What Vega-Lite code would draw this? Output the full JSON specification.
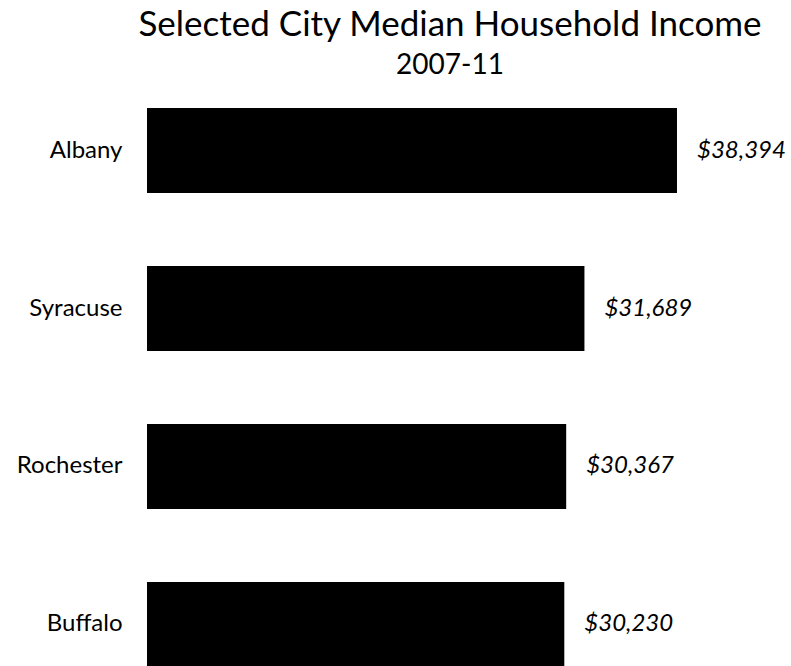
{
  "$schema": "https://vega.github.io/schema/vega-lite/v6.json",
  "autosize": "none",
  "width": 606,
  "height": 559,
  "padding": {"top": 108, "left": 147, "right": 38, "bottom": 0},
  "background": "white",
  "title": {
    "text": "Selected City Median Household Income",
    "subtitle": "2007-11",
    "anchor": "middle",
    "font": "Lato",
    "fontSize": 35,
    "fontWeight": "normal",
    "color": "#000000",
    "subtitleFont": "Lato",
    "subtitleFontSize": 28,
    "subtitleColor": "#000000",
    "subtitlePadding": 9,
    "offset": 28
  },
  "data": {
    "values": [
      {"city": "Albany", "income": 38394},
      {"city": "Syracuse", "income": 31689},
      {"city": "Rochester", "income": 30367},
      {"city": "Buffalo", "income": 30230}
    ]
  },
  "encoding": {
    "y": {
      "field": "city",
      "type": "nominal",
      "sort": null,
      "scale": {"paddingInner": 0.462, "paddingOuter": 0},
      "axis": {
        "title": null,
        "ticks": false,
        "domain": false,
        "labelFont": "Lato",
        "labelFontSize": 24,
        "labelColor": "#000000",
        "labelPadding": 25
      }
    },
    "x": {
      "field": "income",
      "type": "quantitative",
      "scale": {"domain": [0, 43900]},
      "axis": null
    }
  },
  "layer": [
    {"mark": {"type": "bar", "color": "#000000"}},
    {
      "mark": {
        "type": "text",
        "align": "left",
        "dx": 20,
        "font": "Lato",
        "fontSize": 24,
        "fontStyle": "italic",
        "color": "#000000"
      },
      "encoding": {
        "text": {"field": "income", "type": "quantitative", "format": "$,.0f"}
      }
    }
  ],
  "config": {"view": {"stroke": null}}
}
